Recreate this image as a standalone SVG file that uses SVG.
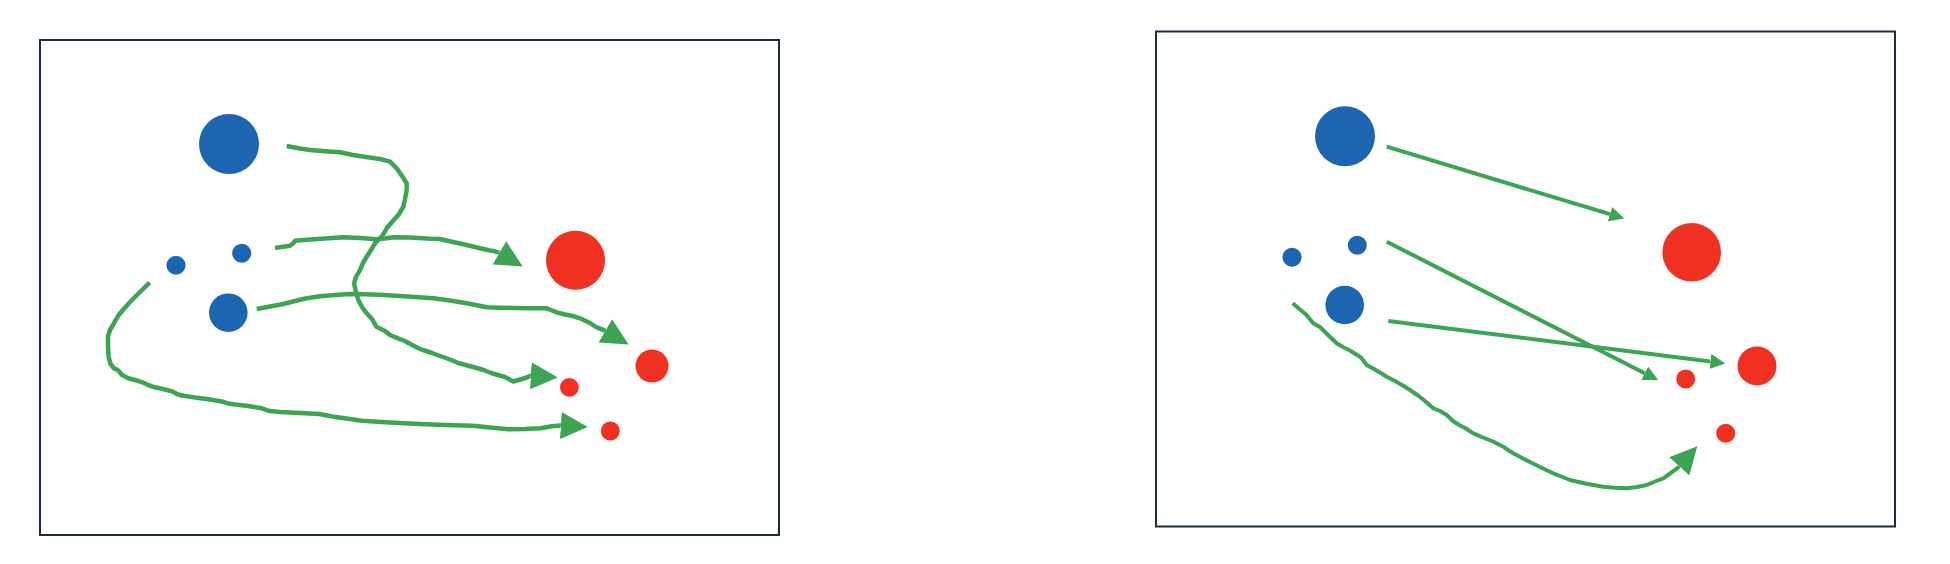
<svg xmlns="http://www.w3.org/2000/svg" width="1950" height="564" viewBox="0 0 1950 564">
<style>
.frame{fill:#ffffff;stroke:#1b2a48;stroke-width:2}
.src{fill:#1c65b1}
.dst{fill:#f03121}
.edge{fill:none;stroke:#3ba553;stroke-width:4;stroke-linejoin:round;stroke-linecap:butt}
.wobble{stroke-width:4.5}
.big{marker-end:url(#bigHead)}
.small{marker-end:url(#smallHead)}
</style>
<defs>
<marker id="bigHead" markerUnits="userSpaceOnUse" markerWidth="27" markerHeight="27" viewBox="0 0 26 26" refX="0" refY="13" orient="auto">
<path d="M0,0 L26,13 L0,26 z" fill="#3ba553"/>
</marker>
<marker id="smallHead" markerUnits="userSpaceOnUse" markerWidth="15" markerHeight="15" viewBox="0 0 14 14" refX="0" refY="7" orient="auto">
<path d="M0,0 L14,7 L0,14 z" fill="#3ba553"/>
</marker>
</defs>
<rect width="1950" height="564" fill="#ffffff"/>
<rect class="frame" x="40" y="40" width="739" height="495"/>
<rect class="frame" x="1156" y="31.5" width="739" height="495"/>

<g id="connectors">
<polyline class="edge wobble big" points="286.7,146 300,148.5 310,150 325,151.3 340,152.3 353,155 366,157 380,159 390,161.7 396.7,168.3 402,176 406.7,183.3 406.7,190 405,199 403.3,206.7 399,214 396.7,216.7 392,222 386.7,228.3 384,233 381.7,236.7 377,241 375,243.3 371,250 366.7,256.7 363,263 360,270 356,277 354,283.3 356,292 358.3,300 362,307 366.7,313.3 372,319 376.4,326.7 385,331 390,335 397.9,338.3 405,341 412.1,345 418,348 422.9,350 432,353 440,356 451.4,360 458,363 465.7,365 475,367.5 483.6,370 491,373 497.9,375 505,377 513.3,381.5 522,379 528,377 530.35,375.82 530.85,375.85"/>
<polyline class="edge wobble big" points="275,248 283,246.7 290,245.7 293.3,243.3 295,240.7 310,239.5 325,238.5 343.3,237.3 360,238 376.7,239.3 385,238.5 393.3,237.3 410,237.5 430,238.7 440,239 453,242 466.7,245 480,248.3 490,250.5 495,251.3 498.92,252.6 499.35,252.85"/>
<polyline class="edge wobble big" points="256.7,309 270,306.5 283.3,304 295,301 306.7,298.3 320,296.3 335,295 350,294 365,294.3 383.3,295 400,296 415,297 433.3,298.3 450,300.5 466.7,303.3 486.7,307.3 500,307.7 515,308 530,308.2 546.7,308.3 552,310.5 556.7,312.3 565,314.5 573,316 580,318.3 590,323 596,327 600,328.6 604.87,330.6 605.3,330.85"/>
<polyline class="edge wobble big" points="149.6,282.7 140,292 131,301 122.9,310 118,316 113.9,323.3 110,330 107.9,336.7 108,346 108.6,356.7 110.5,364 113.9,368.3 117,369.5 119.3,371.7 122,375 128.2,378.3 135,380 142.5,382.3 148,385 155,387.3 163,389 172.9,391.7 178,394.5 183.6,395.7 195,397.5 210,399.5 222.9,401.7 228,403.5 233.6,404.3 248,406 262.1,408.3 269.3,411 280,412 300,413 319.3,414 333.6,416.7 348,418.7 362.1,420.7 390,422.5 419.3,424 445,425 472.9,425.7 490,427.5 508.6,429.3 525,429 540.7,428.3 552,426.2 560.35,425.47 560.85,425.5"/>
<line class="edge small" x1="1386.7" y1="146.7" x2="1609.9" y2="214.2"/>
<line class="edge small" x1="1386.7" y1="241.7" x2="1644.7" y2="373.2"/>
<line class="edge small" x1="1388.3" y1="321" x2="1710.4" y2="361.55"/>
<polyline class="edge big" points="1292.7,303.3 1300,309.5 1306,314.5 1313.3,323.3 1320,327 1326,333 1336.7,343.3 1343,347 1350,350.5 1360,356.7 1363,360 1366.7,365 1373,368.5 1380,372.5 1386.7,376.7 1395,381 1402,385 1410,390 1418,395.5 1425,401 1433.3,408.3 1440,411 1446.7,415 1453,421 1460,425.5 1466,428.5 1473.3,433.3 1483,437.5 1493,441.5 1503.3,446.7 1508,450 1513.3,453.3 1523,458.5 1533,463.5 1543,468.5 1553.3,473.3 1560,476 1570,480 1585,483.5 1603.3,486.7 1615,487.8 1626.7,488.3 1637,487 1646.7,485 1655,481.5 1663.3,478.3 1670,473.5 1675,469.8 1678.97,466.72 1679.3,466.35"/>
</g>

<g id="left-src-1"><circle class="src" cx="229" cy="144" r="30"/></g>
<g id="left-src-2"><circle class="src" cx="241.7" cy="253.3" r="9.5"/></g>
<g id="left-src-3"><circle class="src" cx="176" cy="265.3" r="9.5"/></g>
<g id="left-src-4"><circle class="src" cx="228.3" cy="312.7" r="19.3"/></g>
<g id="left-dst-1"><circle class="dst" cx="575.5" cy="260.3" r="29.5"/></g>
<g id="left-dst-2"><circle class="dst" cx="652" cy="366" r="16.5"/></g>
<g id="left-dst-3"><circle class="dst" cx="569.4" cy="387.3" r="9.4"/></g>
<g id="left-dst-4"><circle class="dst" cx="610.3" cy="431" r="9.5"/></g>

<g id="right-src-1"><circle class="src" cx="1345" cy="136.3" r="30"/></g>
<g id="right-src-2"><circle class="src" cx="1357.3" cy="245.3" r="9.5"/></g>
<g id="right-src-3"><circle class="src" cx="1292" cy="257.3" r="9.5"/></g>
<g id="right-src-4"><circle class="src" cx="1344.7" cy="305" r="19.3"/></g>
<g id="right-dst-1"><circle class="dst" cx="1691.7" cy="252.3" r="29.3"/></g>
<g id="right-dst-2"><circle class="dst" cx="1757" cy="366" r="19.5"/></g>
<g id="right-dst-3"><circle class="dst" cx="1685.7" cy="379" r="9.5"/></g>
<g id="right-dst-4"><circle class="dst" cx="1725.7" cy="433.3" r="9.5"/></g>
</svg>
